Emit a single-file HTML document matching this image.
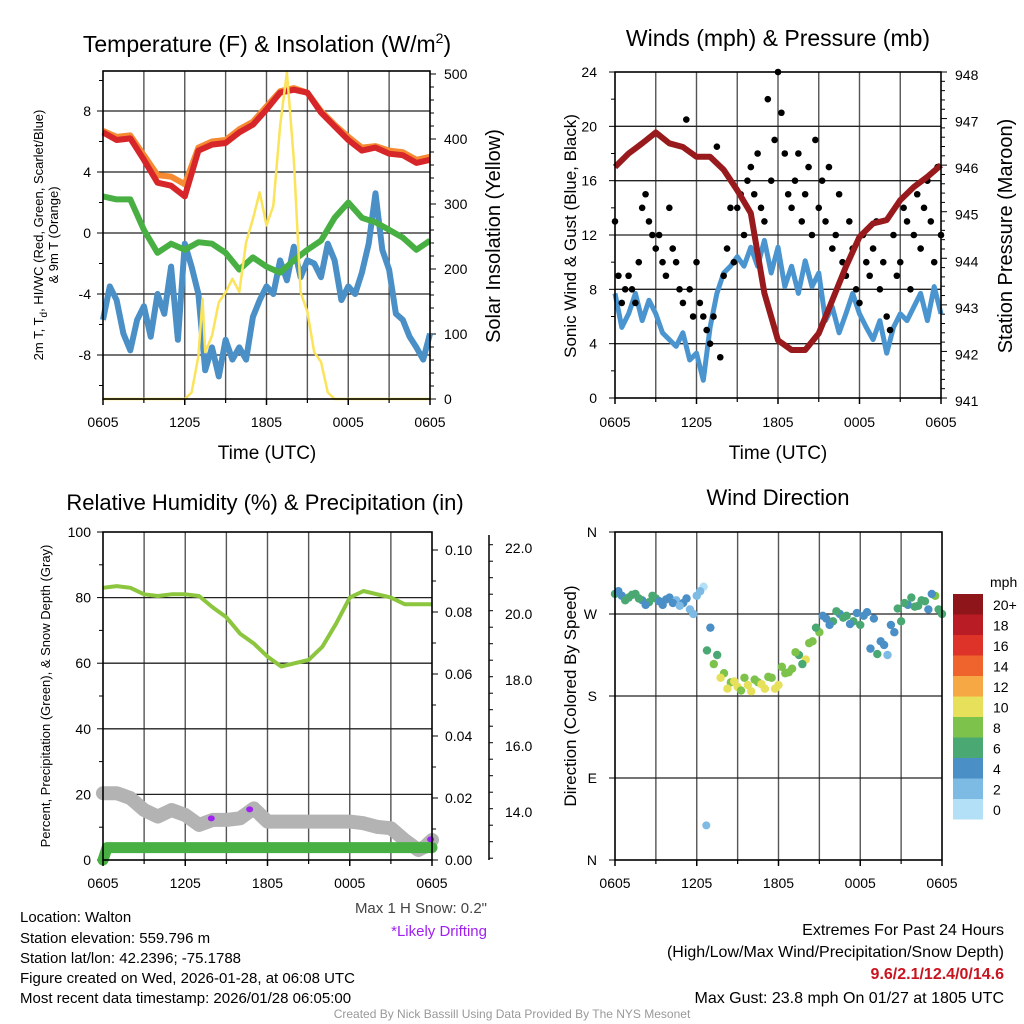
<!DOCTYPE html>
<html><head><meta charset="utf-8"><style>
body{margin:0;background:#fff}
svg{display:block;font-family:"Liberation Sans",Arial,sans-serif}
</style></head><body>
<svg id="c" width="1024" height="1024" viewBox="0 0 1024 1024" xmlns="http://www.w3.org/2000/svg"></svg>
<script>
// ---------- DATA ----------
const timeTicks = ["0605","1205","1805","0005","0605"];
const tempRed = [6.6,6.1,6.2,4.8,3.3,3.1,2.4,5.4,5.8,5.9,6.6,7.1,8.1,9.2,9.4,9.2,7.9,7.0,6.1,5.4,5.6,5.2,5.1,4.6,4.8];
const tempOrange = [6.7,6.3,6.4,5.1,3.8,3.7,3.2,5.6,6.0,6.1,6.8,7.3,8.3,9.3,9.5,9.2,8.0,7.1,6.3,5.6,5.7,5.4,5.3,4.8,5.0];
const dewGreen = [2.4,2.2,2.2,0.2,-1.3,-0.7,-1.1,-0.6,-0.7,-1.3,-2.4,-1.6,-2.2,-2.6,-1.8,-1.1,-0.5,1.0,2.0,1.0,0.7,0.2,-0.3,-1.1,-0.5];
const windChill = [-5.7,-3.5,-4.4,-6.6,-7.7,-5.7,-4.8,-6.8,-4.0,-5.3,-2.2,-7.0,-0.7,-2.2,-4.0,-9.0,-7.5,-9.4,-7.0,-8.3,-7.5,-8.3,-5.5,-4.4,-3.5,-4.0,-1.8,-3.1,-0.9,-2.9,-1.8,-2.0,-2.9,-0.7,-1.8,-4.4,-3.5,-4.0,-2.6,-0.7,2.6,-1.1,-2.4,-5.3,-5.7,-6.8,-7.5,-8.3,-6.6];
const solarT = [0,6,6.5,7,7.3,7.5,8,8.5,9,9.5,10,10.5,11,11.5,12,12.5,13,13.5,14,14.5,15,15.5,16,16.5,17,24];
const solarV = [0,0,10,66,154,72,97,149,164,185,165,241,277,318,267,297,420,503,369,164,134,72,57,10,0,0];
const pressure = [945.96,946.25,946.47,946.7,946.47,946.39,946.18,946.18,945.9,945.46,944.97,943.25,942.24,942.03,942.03,942.39,943.1,943.82,944.46,944.75,944.82,945.25,945.53,945.75,946.0];
const windSpeed = [7.7,5.2,6.2,7.7,5.7,7.2,6.2,4.8,4.3,3.8,4.8,2.8,3.3,1.3,5.2,7.7,9.2,9.7,10.4,9.7,11.1,9.7,11.6,9.2,11.1,8.2,9.7,7.7,10.1,8.2,9.2,5.7,6.7,4.8,6.2,7.7,6.2,5.2,4.3,5.7,3.3,5.2,6.2,5.7,6.7,7.7,5.7,8.2,6.2];
const gusts = [13,9,7,8, 9,8,7,10, 14,15,13,12, 11,12,10,9, 14,11,10,8, 7,20.5,8,6, 10,7,6,5, 4,6,18.5,3, 9,11,14,10, 14,15,12,16, 17,15,18,14, 13,22,16,19, 24,21,18,15, 14,16,18,13, 15,17,12,19, 14,16,13,17, 11,12,15,10, 9,13,11,8, 7,12,10,9, 11,13,8,10, 6,5,12,9, 10,14,13,8, 12,15,11,14, 16,13,10,17, 12];
const rhGreen = [83,83.5,83,81,80.5,81,81,80.5,77,74,69,66,62,59,60,61,65,72,80,82,81,80,78,78,78];
const precipT = [0,0.3,24];
const precipV = [0,0.004,0.004];
const snowT = [0,1,2,3,4,5,6,7,8,9,10,11,12,13,14,15,16,17,18,19,20,21,22,23,23.5,24];
const snowV = [14.57,14.57,14.42,14.06,13.86,14.06,13.91,13.61,13.76,13.76,13.81,14.11,13.71,13.71,13.71,13.71,13.71,13.71,13.71,13.66,13.55,13.51,13.15,12.85,12.95,13.15];
const driftT = [7.9,10.7,23.9];
const windDir = [292,290,288,292,285,283,287,280,288,285,282,275,290,300,255,225,205,195,190,200,185,195,188,200,192,205,210,225,220,240,250,265,262,270,268,262,258,272,265,240,225,250,262,280,278,285,275,290,270];
const windDir2 = [295,285,291,287,280,290,284,286,282,279,287,270,295,230,215,200,188,196,186,192,198,193,201,188,212,206,228,215,238,255,268,258,273,266,259,271,268,232,226,236,258,276,282,288,279,284,292,275];
const windSpeed2 = [5,6,7,6,5,6,5,4,4,3,4,2,2,6,9,10,11,10,9,11,9,10,8,10,9,8,9,7,8,6,5,5,6,7,5,4,5,4,6,5,5,6,7,6,6,7,5,7];
const extraDirT = [6.7]; const extraDir = [38]; const extraSpd = [2.5];
const cbLabels = ["20+","18","16","14","12","10","8","6","4","2","0"];
const cbColors = ["#8e1519","#b91c24","#dd3328","#ef632c","#f5a843","#e6e05a","#7dc24a","#4aa872","#4a8fc6","#7dbae4","#b3e0f7"];

// ---------- HELPERS ----------
const svg = document.getElementById('c');
const NS = "http://www.w3.org/2000/svg";
function mk(tag, attrs, parent, text){
  const e = document.createElementNS(NS, tag);
  for (const k in attrs) e.setAttribute(k, attrs[k]);
  if (text !== undefined) e.textContent = text;
  (parent||svg).appendChild(e); return e;
}
function lin(d0,d1,r0,r1){return v=>r0+(v-d0)*(r1-r0)/(d1-d0);}
function halfT(n){const a=[];for(let i=0;i<n;i++)a.push(i*24/(n-1));return a;}
function pathD(ts,vs,fx,fy){return ts.map((t,i)=>(i?'L':'M')+fx(t).toFixed(1)+','+fy(vs[i]).toFixed(1)).join('');}

function frame(x0,x1,y0,y1,name){
  const g = mk('g',{});
  
  
  const fx = lin(0,24,x0,x1);
  for(let h=3;h<24;h+=3){
    const l=mk('line',{x1:fx(h),x2:fx(h),y1:y0,y2:y1,stroke:'#555','stroke-width':1.4},g);
    
    
  }
  return {g,fx};
}
function border(x0,x1,y0,y1,g){
  const r=mk('rect',{x:x0,y:y0,width:x1-x0,height:y1-y0,fill:'none',stroke:'#000','stroke-width':1.6},g);
  
  
}
function hgrid(g,x0,x1,y){const l=mk('line',{x1:x0,x2:x1,y1:y,y2:y,stroke:'#222','stroke-width':1.3},g);
  
  }
function xTicks(g,fx,yb,ly){
  timeTicks.forEach((s,i)=>{
    const t=i*6;
    mk('line',{x1:fx(t),x2:fx(t),y1:yb,y2:yb+6,stroke:'#000','stroke-width':1.5},g);
    for(let h=t+3;h<t+6&&h<24;h+=3) mk('line',{x1:fx(h),x2:fx(h),y1:yb,y2:yb+4,stroke:'#000','stroke-width':1.2},g);
    const tx=mk('text',{x:fx(t),y:ly,'font-size':14,'text-anchor':'middle'},g,s);
    
    
  });
}
function title(x,y,s,name,size){const t=mk('text',{x:x,y:y,'font-size':size||23,'text-anchor':'middle'},svg,s);
  return t;}
function vtext(x,y,s,size,name){const t=mk('text',{x:x,y:y,'font-size':size,'text-anchor':'middle',transform:`rotate(-90 ${x} ${y})`},svg,s);
  return t;}

// ---------- PANEL 1 ----------
(function(){
  const X0=103,X1=430,Y0=71,Y1=399;
  const {g,fx}=frame(X0,X1,Y0,Y1,'temperature-panel');
  const fy=lin(0,8,233,111), fs=lin(0,500,399,74);
  [8,4,0,-4,-8].forEach(v=>{hgrid(g,X0,X1,fy(v));
    const t=mk('text',{x:X0-12,y:fy(v)+5,'font-size':14,'text-anchor':'end'},g,String(v));
    });
  for(let v=-10;v<=10;v+=2) mk('line',{x1:X0-(v%4===0?6:4),x2:X0,y1:fy(v),y2:fy(v),stroke:'#000'},g);
  [0,100,200,300,400,500].forEach(v=>{
    const t=mk('text',{x:X1+14,y:fs(v)+5,'font-size':14},g,String(v));
    });
  for(let v=0;v<=500;v+=20) mk('line',{x1:X1,x2:X1+(v%100===0?6:4),y1:fs(v),y2:fs(v),stroke:'#000'},g);
  const hr=halfT(25), hh=halfT(49);
  const s1=mk('path',{d:pathD(hh,windChill,fx,fy),fill:'none',stroke:'#4a8fc6','stroke-width':6,'stroke-linejoin':'round'},g);
  
  const s2=mk('path',{d:pathD(hr,dewGreen,fx,fy),fill:'none',stroke:'#48b043','stroke-width':6,'stroke-linejoin':'round'},g);
  
  const s3=mk('path',{d:pathD(hr,tempOrange,fx,fy),fill:'none',stroke:'#f58a33','stroke-width':6,'stroke-linejoin':'round'},g);
  
  const s4=mk('path',{d:pathD(hr,tempRed,fx,fy),fill:'none',stroke:'#d7262a','stroke-width':6,'stroke-linejoin':'round'},g);
  
  const s5=mk('path',{d:pathD(solarT,solarV,fx,fs),fill:'none',stroke:'#fbe35a','stroke-width':2.5,'stroke-linejoin':'round'},g);
  
  border(X0,X1,Y0,Y1,g);
  xTicks(g,fx,Y1,427);
})();
const t1=title(267,52,'Temperature (F) & Insolation (W/m','panel1-title');
mk('tspan',{dy:-9,'font-size':14},t1,'2');mk('tspan',{dy:9},t1,')');
title(267,459,'Time (UTC)','panel1-x-title',19);
const yl=vtext(43,235,'2m T, T',13,'panel1-y-title');
mk('tspan',{dy:4,'font-size':10},yl,'d');mk('tspan',{dy:-4},yl,', HI/WC (Red, Green, Scarlet/Blue)');
vtext(58,235,'& 9m T (Orange)',13,'panel1-y-title-2');
vtext(500,236,'Solar Insolation (Yellow)',20,'panel1-right-title');

// ---------- PANEL 2 ----------
(function(){
  const X0=615,X1=941,Y0=72,Y1=398;
  const {g,fx}=frame(X0,X1,Y0,Y1,'wind-panel');
  const fy=lin(0,24,398,72), fp=lin(941,948,398,72);
  [0,4,8,12,16,20,24].forEach(v=>{ if(v>0&&v<24) hgrid(g,X0,X1,fy(v));
    const t=mk('text',{x:X0-18,y:fy(v)+5,'font-size':14,'text-anchor':'end'},g,String(v));
    });
  for(let v=0;v<=24;v+=2) mk('line',{x1:X0-(v%4===0?6:4),x2:X0,y1:fy(v),y2:fy(v),stroke:'#000'},g);
  for(let v=941;v<=948;v++){const t=mk('text',{x:X1+14,y:fp(v)+8,'font-size':14},g,String(v));
    }
  for(let v=941;v<=948.01;v+=0.2) mk('line',{x1:X1,x2:X1+(Math.abs(v-Math.round(v))<0.01?6:4),y1:fp(v),y2:fp(v),stroke:'#000'},g);
  const hh=halfT(49), hr=halfT(25), gt=halfT(gusts.length);
  const w=mk('path',{d:pathD(hh,windSpeed,fx,fy),fill:'none',stroke:'#4a95d0','stroke-width':5,'stroke-linejoin':'round'},g);
  
  gusts.forEach((v,i)=>{const c=mk('circle',{cx:fx(gt[i]),cy:fy(v),r:3.3,fill:'#000'},g);
    });
  const p=mk('path',{d:pathD(hr,pressure,fx,fp),fill:'none',stroke:'#981a1c','stroke-width':6,'stroke-linejoin':'round'},g);
  
  border(X0,X1,Y0,Y1,g);
  xTicks(g,fx,Y1,427);
})();
title(778,46,'Winds (mph) & Pressure (mb)','panel2-title');
title(778,459,'Time (UTC)','panel2-x-title',19);
vtext(576,236,'Sonic Wind & Gust (Blue, Black)',17,'panel2-y-title');
vtext(1012,236,'Station Pressure (Maroon)',20,'panel2-right-title');

// ---------- PANEL 3 ----------
(function(){
  const X0=103,X1=432,Y0=532,Y1=860;
  const {g,fx}=frame(X0,X1,Y0,Y1,'humidity-panel');
  const fy=lin(0,100,860,532), fpr=lin(0,0.1,860,550), fsn=lin(14,22,812,548);
  [0,20,40,60,80,100].forEach(v=>{ if(v>0&&v<100) hgrid(g,X0,X1,fy(v));
    const t=mk('text',{x:X0-12,y:fy(v)+5,'font-size':14,'text-anchor':'end'},g,String(v));
    });
  for(let v=0;v<=100;v+=10) mk('line',{x1:X0-(v%20===0?6:4),x2:X0,y1:fy(v),y2:fy(v),stroke:'#000'},g);
  [0,0.02,0.04,0.06,0.08,0.10].forEach(v=>{
    const t=mk('text',{x:X1+13,y:fpr(v)+5,'font-size':14},g,v.toFixed(2));
    });
  for(let v=0;v<=0.1001;v+=0.01) mk('line',{x1:X1,x2:X1+(Math.round(v*100)%2===0?6:4),y1:fpr(v),y2:fpr(v),stroke:'#000'},g);
  mk('line',{x1:489,x2:489,y1:535,y2:860,stroke:'#000','stroke-width':1.5},g);
  [14,16,18,20,22].forEach(v=>{
    const t=mk('text',{x:505,y:fsn(v)+5,'font-size':14},g,v.toFixed(1));
    });
  for(let v=12.6;v<=22.5;v+=0.5) mk('line',{x1:489,x2:489+(Math.abs(v-Math.round(v))<0.01&&Math.round(v)%2===0?6:4),y1:fsn(v),y2:fsn(v),stroke:'#000'},g);
  const sn=mk('path',{d:pathD(snowT,snowV,fx,fsn),fill:'none',stroke:'#b3b3b3','stroke-width':14,'stroke-linejoin':'round','stroke-linecap':'round'},g);
  
  driftT.forEach(t=>{let i=0;while(i<snowT.length-2&&snowT[i+1]<t)i++;
    const v=snowV[i]+(snowV[i+1]-snowV[i])*(t-snowT[i])/(snowT[i+1]-snowT[i]);
    const c=mk('ellipse',{cx:fx(t),cy:fsn(v)-2,rx:3.5,ry:3,fill:'#a020f0'},g);
    });
  const pr=mk('path',{d:pathD(precipT,precipV,fx,fpr),fill:'none',stroke:'#48b043','stroke-width':11,'stroke-linejoin':'round','stroke-linecap':'round'},g);
  
  const rh=mk('path',{d:pathD(halfT(25),rhGreen,fx,fy),fill:'none',stroke:'#8cc63f','stroke-width':4,'stroke-linejoin':'round'},g);
  
  border(X0,X1,Y0,Y1,g);
  xTicks(g,fx,Y1,888);
})();
title(265,510,'Relative Humidity (%) & Precipitation (in)','panel3-title',22);
vtext(50,696,'Percent, Precipitation (Green), & Snow Depth (Gray)',13,'panel3-y-title');

// ---------- PANEL 4 ----------
(function(){
  const X0=615,X1=942,Y0=532,Y1=860;
  const {g,fx}=frame(X0,X1,Y0,Y1,'wind-direction-panel');
  const fy=lin(0,360,860,532);
  const dl=['N','E','S','W','N'];
  dl.forEach((s,i)=>{const v=i*90; if(i>0&&i<4) hgrid(g,X0,X1,fy(v));
    mk('line',{x1:X0-6,x2:X0,y1:fy(v),y2:fy(v),stroke:'#000'},g);
    const t=mk('text',{x:X0-18,y:fy(v)+5,'font-size':14,'text-anchor':'end'},g,s);
    });
  function col(s){const i=Math.min(10,Math.floor(s/2));return cbColors[10-i];}
  const hh=halfT(49);
  windDir.forEach((d,i)=>{const c=mk('circle',{cx:fx(hh[i]),cy:fy(d),r:4.2,fill:col(windSpeed[i])},g);
    });
  windDir2.forEach((d,i)=>{const c=mk('circle',{cx:fx(i*0.5+0.25),cy:fy(d),r:4.2,fill:col(windSpeed2[i])},g);
    });
  extraDir.forEach((d,i)=>{const c=mk('circle',{cx:fx(extraDirT[i]),cy:fy(d),r:4,fill:col(extraSpd[i])},g);
    });
  border(X0,X1,Y0,Y1,g);
  xTicks(g,fx,Y1,888);
  const cb=mk('g',{});
  
  
  const bh=20.5;
  mk('text',{x:990,y:587,'font-size':14},cb,'mph');
  cbColors.forEach((c,i)=>{mk('rect',{x:953,y:594+i*bh,width:30,height:bh,fill:c},cb);
    const t=mk('text',{x:993,y:594+i*bh+16,'font-size':14},cb,cbLabels[i]);
    });
})();
title(778,505,'Wind Direction','panel4-title',22);
vtext(576,696,'Direction (Colored By Speed)',17,'panel4-y-title');

// ---------- FOOTER ----------
[["Location: Walton",922],["Station elevation: 559.796 m",943],["Station lat/lon: 42.2396; -75.1788",963],["Figure created on Wed, 2026-01-28, at 06:08 UTC",983],["Most recent data timestamp: 2026/01/28 06:05:00",1003]].forEach(a=>{
  const t=mk('text',{x:20,y:a[1],'font-size':15},svg,a[0]);
  });
[["Extremes For Past 24 Hours",935,'#000','normal'],["(High/Low/Max Wind/Precipitation/Snow Depth)",957,'#000','normal'],["9.6/2.1/12.4/0/14.6",979,'#c8141e','bold'],["Max Gust: 23.8 mph On 01/27 at 1805 UTC",1003,'#000','normal']].forEach(a=>{
  const t=mk('text',{x:1004,y:a[1],'font-size':16,'text-anchor':'end',fill:a[2],'font-weight':a[3]},svg,a[0]);
  });
let ft=mk('text',{x:487,y:913,'font-size':15,'text-anchor':'end',fill:'#444'},svg,'Max 1 H Snow: 0.2"');

ft=mk('text',{x:487,y:936,'font-size':15,'text-anchor':'end',fill:'#a020f0'},svg,'*Likely Drifting');

ft=mk('text',{x:512,y:1018,'font-size':12,'text-anchor':'middle',fill:'#999'},svg,'Created By Nick Bassill Using Data Provided By The NYS Mesonet');

</script>
</body></html>
